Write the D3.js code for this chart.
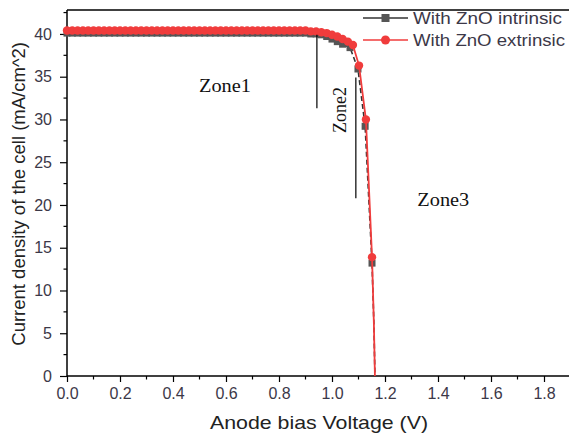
<!DOCTYPE html>
<html>
<head>
<meta charset="utf-8">
<script src="https://cdn.jsdelivr.net/npm/d3@7"></script>
<style>
  body { margin: 0; background: #fff; }
  svg { display: block; font-family: "Liberation Sans", Arial, sans-serif; }
</style>
</head>
<body>
<div id="chart-area"><svg></svg></div>
<script>
const chartSize = { width: 569, height: 436 };
const margin = { left: 67, top: 10, right: 0, bottom: 60 };

// flat part, read every 0.02 V
const flatVoltage = [0.00, 0.02, 0.04, 0.06, 0.08, 0.10, 0.12, 0.14, 0.16, 0.18,
  0.20, 0.22, 0.24, 0.26, 0.28, 0.30, 0.32, 0.34, 0.36, 0.38,
  0.40, 0.42, 0.44, 0.46, 0.48, 0.50, 0.52, 0.54, 0.56, 0.58,
  0.60, 0.62, 0.64, 0.66, 0.68, 0.70, 0.72, 0.74, 0.76, 0.78,
  0.80, 0.82, 0.84, 0.86, 0.88, 0.90, 0.92, 0.94, 0.96];
const intrinsicFlat = [40.1, 40.1, 40.1, 40.1, 40.1, 40.1, 40.1, 40.1, 40.1, 40.1,
  40.1, 40.1, 40.1, 40.1, 40.1, 40.1, 40.1, 40.1, 40.1, 40.1,
  40.1, 40.1, 40.1, 40.1, 40.1, 40.1, 40.1, 40.1, 40.1, 40.1,
  40.1, 40.1, 40.1, 40.1, 40.1, 40.1, 40.1, 40.1, 40.1, 40.1,
  40.1, 40.1, 40.1, 40.1, 40.1, 40.1, 40.0, 40.0, 39.9];
const extrinsicFlat = [40.4, 40.4, 40.4, 40.4, 40.4, 40.4, 40.4, 40.4, 40.4, 40.4,
  40.4, 40.4, 40.4, 40.4, 40.4, 40.4, 40.4, 40.4, 40.4, 40.4,
  40.4, 40.4, 40.4, 40.4, 40.4, 40.4, 40.4, 40.4, 40.4, 40.4,
  40.4, 40.4, 40.4, 40.4, 40.4, 40.4, 40.4, 40.4, 40.4, 40.4,
  40.4, 40.4, 40.4, 40.4, 40.4, 40.4, 40.3, 40.3, 40.2];

// knee and drop, with markers
const intrinsicKneeV = [0.98, 1.00, 1.02, 1.04, 1.068, 1.098, 1.125, 1.151];
const intrinsicKneeJ = [39.7, 39.4, 39.1, 38.8, 38.4, 35.9, 29.2, 13.2];
const extrinsicKneeV = [0.98, 1.00, 1.02, 1.04, 1.06, 1.079, 1.102, 1.128, 1.151];
const extrinsicKneeJ = [40.1, 39.9, 39.7, 39.4, 39.1, 38.7, 36.3, 30.0, 13.9];

// tail drawn as line only
const tailV = [1.158, 1.162];
const tailJ = [6.2, 0];

const series = [
  { name: "With ZnO intrinsic", color: "#333333", fill: "#555555", shape: "square",
    v: flatVoltage.concat(intrinsicKneeV), j: intrinsicFlat.concat(intrinsicKneeJ) },
  { name: "With ZnO extrinsic", color: "#f03c3c", fill: "#f03c3c", shape: "circle",
    v: flatVoltage.concat(extrinsicKneeV), j: extrinsicFlat.concat(extrinsicKneeJ) }
];

const zones = [
  { label: "Zone1", v: 0.596, j: 33.9, rotate: false },
  { label: "Zone2", v: 1.03, j: 31.1, rotate: true },
  { label: "Zone3", v: 1.42, j: 20.6, rotate: false }
];
const zoneLines = [
  { v: 0.943, j0: 39.9, j1: 31.3 },
  { v: 1.09, j0: 34.9, j1: 20.8 }
];

const xTicks = [0.0, 0.2, 0.4, 0.6, 0.8, 1.0, 1.2, 1.4, 1.6, 1.8];
const yTicks = [0, 5, 10, 15, 20, 25, 30, 35, 40];

const plotBottom = 376;
const x = d3.scaleLinear().domain([0, 1.9]).range([margin.left, margin.left + 1.9 * 265]);
const y = d3.scaleLinear().domain([0, 42.8]).range([plotBottom, margin.top]);

const svg = d3.select("#chart-area svg")
  .attr("width", chartSize.width)
  .attr("height", chartSize.height);

const tickColor = "#3c3848";

// minor ticks
const xMinor = xTicks.map(t => t + 0.1);
svg.append("g").selectAll("line").data(xMinor).join("line")
  .attr("x1", d => x(d)).attr("x2", d => x(d))
  .attr("y1", plotBottom).attr("y2", plotBottom + 3.5)
  .attr("stroke", "#000").attr("stroke-width", 1.2);
const yMinor = yTicks.map(t => t + 2.5);
svg.append("g").selectAll("line").data(yMinor).join("line")
  .attr("x1", margin.left - 3.5).attr("x2", margin.left)
  .attr("y1", d => y(d)).attr("y2", d => y(d))
  .attr("stroke", "#000").attr("stroke-width", 1.2);

const xAxis = d3.axisBottom(x).tickValues(xTicks).tickFormat(d3.format(".1f")).tickSize(6).tickPadding(6);
const gx = svg.append("g").attr("transform", `translate(0,${plotBottom})`).call(xAxis);
gx.select(".domain").attr("d", `M${margin.left},0H${chartSize.width}`).attr("stroke-width", 1.5);
gx.selectAll(".tick line").attr("stroke-width", 1.2);
gx.selectAll(".tick text").attr("fill", tickColor).attr("font-size", 16)
  .attr("font-family", "Liberation Sans, Arial, sans-serif");

const yAxis = d3.axisLeft(y).tickValues(yTicks).tickSize(7).tickPadding(8);
const gy = svg.append("g").attr("transform", `translate(${margin.left},0)`).call(yAxis);
gy.select(".domain").attr("d", `M0,${plotBottom}V${margin.top}`).attr("stroke-width", 1.5);
gy.selectAll(".tick line").attr("stroke-width", 1.2);
gy.selectAll(".tick text").attr("fill", tickColor).attr("font-size", 16)
  .attr("font-family", "Liberation Sans, Arial, sans-serif");

// top frame line
svg.append("line")
  .attr("x1", margin.left).attr("x2", chartSize.width)
  .attr("y1", margin.top).attr("y2", margin.top)
  .attr("stroke", "#000").attr("stroke-width", 1.5);

// axis titles (source is slightly stretched horizontally)
svg.append("text")
  .attr("x", 210).attr("y", 429)
  .attr("textLength", 218).attr("lengthAdjust", "spacingAndGlyphs")
  .attr("font-size", 18.5).attr("fill", "#222")
  .text("Anode bias Voltage (V)");
svg.append("text")
  .attr("transform", `translate(25,${y(21.3)}) rotate(-90)`)
  .attr("text-anchor", "middle")
  .attr("font-size", 18.5).attr("fill", "#222")
  .text("Current density of the cell (mA/cm^2)");

// series
const line = d3.line().x(d => x(d[0])).y(d => y(d[1]));
series.forEach(s => {
  const pts = s.v.map((v, i) => [v, s.j[i]]).concat(tailV.map((v, i) => [v, tailJ[i]]));
  svg.append("path")
    .attr("d", line(pts))
    .attr("fill", "none")
    .attr("stroke", s.color)
    .attr("stroke-width", s.shape === "circle" ? 1.8 : 1.6)
    .attr("stroke-dasharray", s.shape === "square" ? "5,3" : null);
  const marks = s.v.map((v, i) => [v, s.j[i]]);
  if (s.shape === "square") {
    svg.append("g").selectAll("rect").data(marks).join("rect")
      .attr("x", d => x(d[0]) - 3.5).attr("y", d => y(d[1]) - 3.5)
      .attr("width", 7).attr("height", 7)
      .attr("fill", s.fill);
  } else {
    svg.append("g").selectAll("circle").data(marks).join("circle")
      .attr("cx", d => x(d[0])).attr("cy", d => y(d[1]))
      .attr("r", 4.2)
      .attr("fill", s.fill);
  }
});

// zone annotations
svg.append("g").selectAll("line").data(zoneLines).join("line")
  .attr("x1", d => x(d.v)).attr("x2", d => x(d.v))
  .attr("y1", d => y(d.j0)).attr("y2", d => y(d.j1))
  .attr("stroke", "#000").attr("stroke-width", 1.2);
svg.append("g").selectAll("text").data(zones).join("text")
  .attr("transform", d => `translate(${x(d.v)},${y(d.j)})` + (d.rotate ? " rotate(-90)" : " scale(1.13,1)"))
  .attr("text-anchor", "middle").attr("dy", "0.35em")
  .attr("font-family", "Liberation Serif, DejaVu Serif, serif")
  .attr("font-size", 18).attr("fill", "#111")
  .text(d => d.label);

// legend
const legend = svg.append("g").attr("transform", "translate(363,18)");
series.forEach((s, i) => {
  const g = legend.append("g").attr("transform", `translate(0,${i * 22})`);
  g.append("line").attr("x1", 0).attr("x2", 45).attr("y1", 0).attr("y2", 0)
    .attr("stroke", s.color).attr("stroke-width", 1.6);
  if (s.shape === "square") {
    g.append("rect").attr("x", 18.5).attr("y", -4).attr("width", 8).attr("height", 8).attr("fill", s.fill);
  } else {
    g.append("circle").attr("cx", 22.5).attr("cy", 0).attr("r", 4.5).attr("fill", s.fill);
  }
  g.append("text").attr("x", 50).attr("dy", "0.35em")
    .attr("textLength", i === 0 ? 149 : 152).attr("lengthAdjust", "spacingAndGlyphs")
    .attr("font-size", 16.5).attr("fill", "#3c3848")
    .text(s.name);
});
</script>
</body>
</html>
